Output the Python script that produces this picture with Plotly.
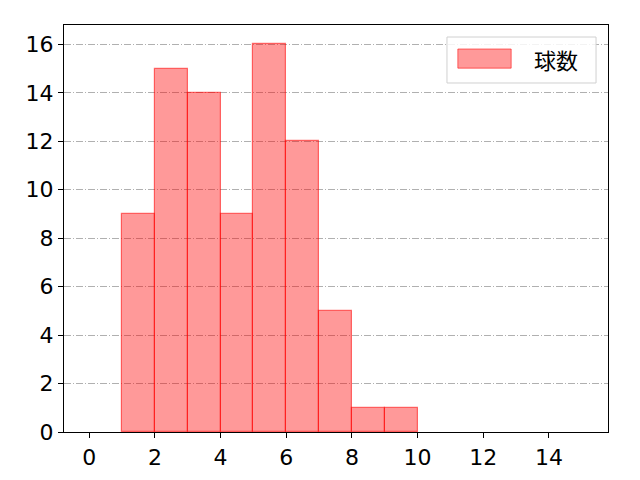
import plotly.graph_objects as go

# ヒストグラムのビン(左端)と度数
bin_left = [1, 2, 3, 4, 5, 6, 7, 8, 9]
counts = [9, 15, 14, 9, 16, 12, 5, 1, 1]
legend_name = "球数"
x_ticks = [0, 2, 4, 6, 8, 10, 12, 14]
y_ticks = [0, 2, 4, 6, 8, 10, 12, 14, 16]

fnt = "Noto Sans CJK JP, DejaVu Sans, sans-serif"
tick_fnt = "DejaVu Sans, Noto Sans CJK JP, sans-serif"

fig = go.Figure()
fig.add_trace(go.Bar(
    x=bin_left, y=counts, width=1, offset=0,
    marker=dict(color="rgba(255,0,0,0.4)",
                line=dict(color="rgba(255,0,0,0.55)", width=1.2)),
    name=legend_name, showlegend=False,
))

# 凡例 (matplotlib風)
fig.add_shape(type="rect", xref="paper", yref="paper",
              x0=0.704, x1=0.978, y0=0.8575, y1=0.9705,
              line=dict(color="#d0d0d0", width=1), fillcolor="rgba(255,255,255,0.85)",
              layer="above")
fig.add_shape(type="rect", xref="paper", yref="paper",
              x0=0.724, x1=0.822, y0=0.894, y1=0.941,
              line=dict(color="rgba(255,0,0,0.55)", width=1),
              fillcolor="rgba(255,0,0,0.4)", layer="above")
fig.add_annotation(xref="paper", yref="paper", x=0.905, y=0.916,
                   xanchor="center", yanchor="middle",
                   text=legend_name, showarrow=False,
                   font=dict(size=22, color="black", family=fnt))

# ページの余白(8px)を差し引いたサイズ
fig.update_layout(
    width=632, height=472,
    margin=dict(l=56, r=32, t=17, b=48, autoexpand=False),
    plot_bgcolor="white", paper_bgcolor="white",
    font=dict(family=tick_fnt, size=22, color="black"),
    bargap=0,
)
fig.update_xaxes(range=[-0.77, 15.8], tickvals=x_ticks, ticks="outside",
                 ticklen=5, tickcolor="black", showgrid=False, zeroline=False,
                 automargin=False,
                 showline=True, linecolor="black", linewidth=1.2, mirror=True)
fig.update_yaxes(range=[0, 16.8], tickvals=y_ticks, ticks="outside",
                 ticklen=5, tickcolor="black", showgrid=True,
                 gridcolor="#b0b0b0", griddash="7px,2px,1px,2px", gridwidth=1,
                 automargin=False,
                 zeroline=False, showline=True, linecolor="black",
                 linewidth=1.2, mirror=True)

fig.write_html("out.html")
